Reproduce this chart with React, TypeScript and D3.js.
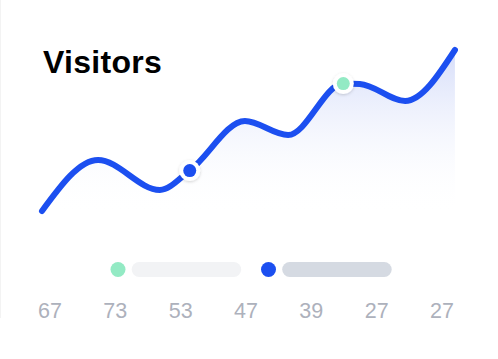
import React from "react";
import * as d3 from "d3";

const pointX = [0, 13.5, 28.4, 35.6, 48.9, 59.3, 72.6, 76.6, 87.5, 99.5];
const pointY = [9.5, 35, 20, 29.7, 54.5, 47.5, 73.2, 73, 64.5, 90];
const markerIndex = [3, 6];
const markerColors = ["#1c4ff0", "#93eac4"];
const legendColors = ["#93eac4", "#1c4ff0"];
const legendBars = ["#f2f3f5", "#d5dae2"];
const tickLabels = ["67", "73", "53", "47", "39", "27", "27"];
const title = "Visitors";

export default function App() {
  const W = 498, H = 359;
  const x = d3.scaleLinear().domain([0, 100]).range([42, 457]);
  const y = d3.scaleLinear().domain([0, 100]).range([230, 30]);
  const data = pointX.map((v, i) => ({ x: v, y: pointY[i] }));
  const line = d3.line<any>().x(d => x(d.x)).y(d => y(d.y)).curve(d3.curveMonotoneX);
  const area = d3.area<any>().x(d => x(d.x)).y0(y(0) - 10).y1(d => y(d.y)).curve(d3.curveMonotoneX);
  const tx = d3.scalePoint<number>().domain(d3.range(tickLabels.length)).range([50, 442]);
  const lx = d3.scalePoint<number>().domain([0, 1]).range([118, 268.5]);

  return (
    <svg width={W} height={H} style={{ position: "absolute", left: 0, top: 0, background: "#fff" }}>
      <defs>
        <linearGradient id="fillg" gradientUnits="userSpaceOnUse" x1="0" y1="45" x2="0" y2="215">
          <stop offset="0" stopColor="#d3dbf9" stopOpacity="1" />
          <stop offset="1" stopColor="#ffffff" stopOpacity="0" />
        </linearGradient>
        <filter id="sh" x="-50%" y="-50%" width="200%" height="200%">
          <feDropShadow dx="0" dy="1" stdDeviation="1.5" floodColor="#000" floodOpacity="0.18" />
        </filter>
      </defs>
      <line x1={0.5} x2={0.5} y1={0} y2={318} stroke="#f3f3f3" />
      <text x={43} y={72.5} fontFamily="Liberation Sans, Arial, sans-serif" fontWeight={700} fontSize={32} letterSpacing={0.3} fill="#000">{title}</text>
      <path d={area(data) || ""} fill="url(#fillg)" />
      <path d={line(data) || ""} fill="none" stroke="#1c4ff0" strokeWidth={6} strokeLinecap="round" strokeLinejoin="round" />
      {markerIndex.map((mi, k) => (
        <g key={k}>
          <circle cx={x(pointX[mi])} cy={y(pointY[mi])} r={10.5} fill="#fff" filter="url(#sh)" />
          <circle cx={x(pointX[mi])} cy={y(pointY[mi])} r={6.5} fill={markerColors[k]} />
        </g>
      ))}
      {legendColors.map((c, k) => (
        <g key={k}>
          <circle cx={lx(k)} cy={269.5} r={7.5} fill={c} />
          <rect x={(lx(k) as number) + 13.7} y={262} width={109.5} height={15} rx={7.5} fill={legendBars[k]} />
        </g>
      ))}
      {tickLabels.map((t, i) => (
        <text key={i} x={tx(i)} y={318} textAnchor="middle" fontFamily="Liberation Sans, Arial, sans-serif" fontSize={21.5} fill="#adb1bc">{t}</text>
      ))}
    </svg>
  );
}
